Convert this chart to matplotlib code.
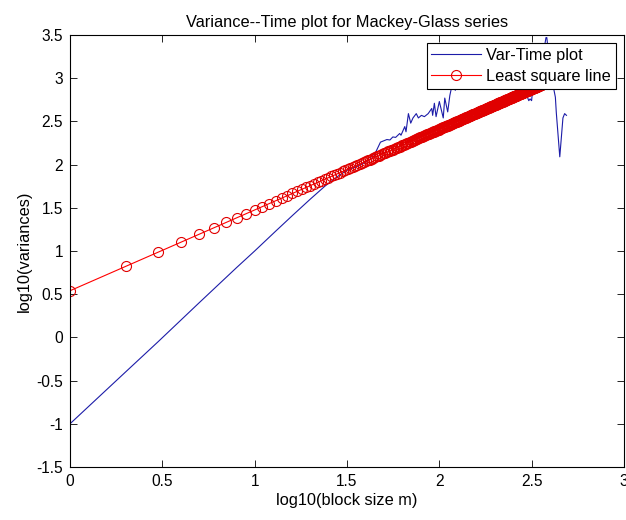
import numpy as np
import matplotlib
matplotlib.use("Agg")
import matplotlib.pyplot as plt
from matplotlib.ticker import FormatStrFormatter

plt.rcParams["font.family"] = ["Liberation Sans", "DejaVu Sans"]

# Variance-time data: block size m and log10 of the aggregated variance
block_sizes = [1, 2, 3, 5, 8, 10, 13, 16, 20, 24, 28, 32, 36, 40, 44, 48,
               52, 54, 56, 58, 61, 62, 65, 66, 68, 70, 72, 75, 77, 80, 83, 87,
               91, 92, 94, 96, 100, 105, 107, 111, 114,
               118, 122, 127, 133, 140, 148, 155, 163, 172, 180, 190, 200,
               212, 225, 238, 250, 265, 280, 295, 300, 305, 310, 316, 321,
               330, 345, 360, 372, 378, 382, 386, 395, 410, 425, 430, 449,
               467, 477, 488]
log_variances = [-1.00, -0.40, -0.05, 0.40, 0.81, 1.00, 1.23, 1.41, 1.60,
                 1.75, 1.86, 1.94, 1.98, 2.03, 2.09, 2.26,
                 2.29, 2.285, 2.32, 2.315, 2.36, 2.34, 2.44, 2.38, 2.59, 2.48,
                 2.54, 2.59, 2.54, 2.57, 2.555, 2.59,
                 2.65, 2.57, 2.71, 2.555, 2.73, 2.54, 2.77, 2.61, 2.80,
                 2.95, 2.86, 3.02, 2.90, 3.08, 2.92, 3.12, 2.95, 3.16, 3.00,
                 3.20, 3.02, 3.22, 3.05, 3.25, 3.08, 3.26, 3.02, 2.95, 2.78,
                 2.74, 2.76, 2.74, 2.90, 3.10, 3.25, 3.30, 3.38, 3.47, 3.47,
                 3.38, 3.20, 2.95, 2.78, 2.60, 2.09, 2.54, 2.59, 2.57]

# Least square fit of the variance-time curve
fit_intercept = 0.54
fit_slope = 0.935
fit_block_sizes = np.arange(1, 489)

x_ticks = [0, 0.5, 1, 1.5, 2, 2.5, 3]
y_ticks = [-1.5, -1, -0.5, 0, 0.5, 1, 1.5, 2, 2.5, 3, 3.5]

fig = plt.figure(figsize=(6.26, 5.2), dpi=100)
ax = fig.add_axes([70 / 626, 1 - 467 / 520, (624 - 70) / 626, (467 - 35) / 520])

bx = np.log10(block_sizes)
ax.plot(bx, log_variances, color="#1c1ca8", lw=0.8, label="Var-Time plot")

fx = np.log10(fit_block_sizes)
ax.plot(fx, fit_intercept + fit_slope * fx, color="red", lw=0.8,
        marker="o", markersize=7.2, markerfacecolor="none",
        markeredgecolor="#e00000", markeredgewidth=0.8,
        label="Least square line")

ax.set_xlim(0, 3)
ax.set_ylim(-1.5, 3.5)
ax.set_xticks(x_ticks)
ax.set_yticks(y_ticks)
ax.xaxis.set_major_formatter(FormatStrFormatter("%g"))
ax.yaxis.set_major_formatter(FormatStrFormatter("%g"))
ax.tick_params(direction="in", length=5, width=0.6, top=True, right=True,
               labelsize=11.2, pad=5)
for s in ax.spines.values():
    s.set_linewidth(0.8)

ax.set_title("Variance--Time plot for Mackey-Glass series", fontsize=11.8, pad=6)
ax.set_xlabel("log10(block size m)", fontsize=11.8, labelpad=3)
ax.set_ylabel("log10(variances)", fontsize=11.8, labelpad=3)

leg = ax.legend(loc="upper right", bbox_to_anchor=(0.9856, 0.981),
                borderaxespad=0, fontsize=11.8, handlelength=3.0,
                handletextpad=0.35, labelspacing=0.35, fancybox=False,
                framealpha=1, edgecolor="black", borderpad=0.3)
leg.get_frame().set_linewidth(0.8)

fig.savefig("out.png", dpi=100)
